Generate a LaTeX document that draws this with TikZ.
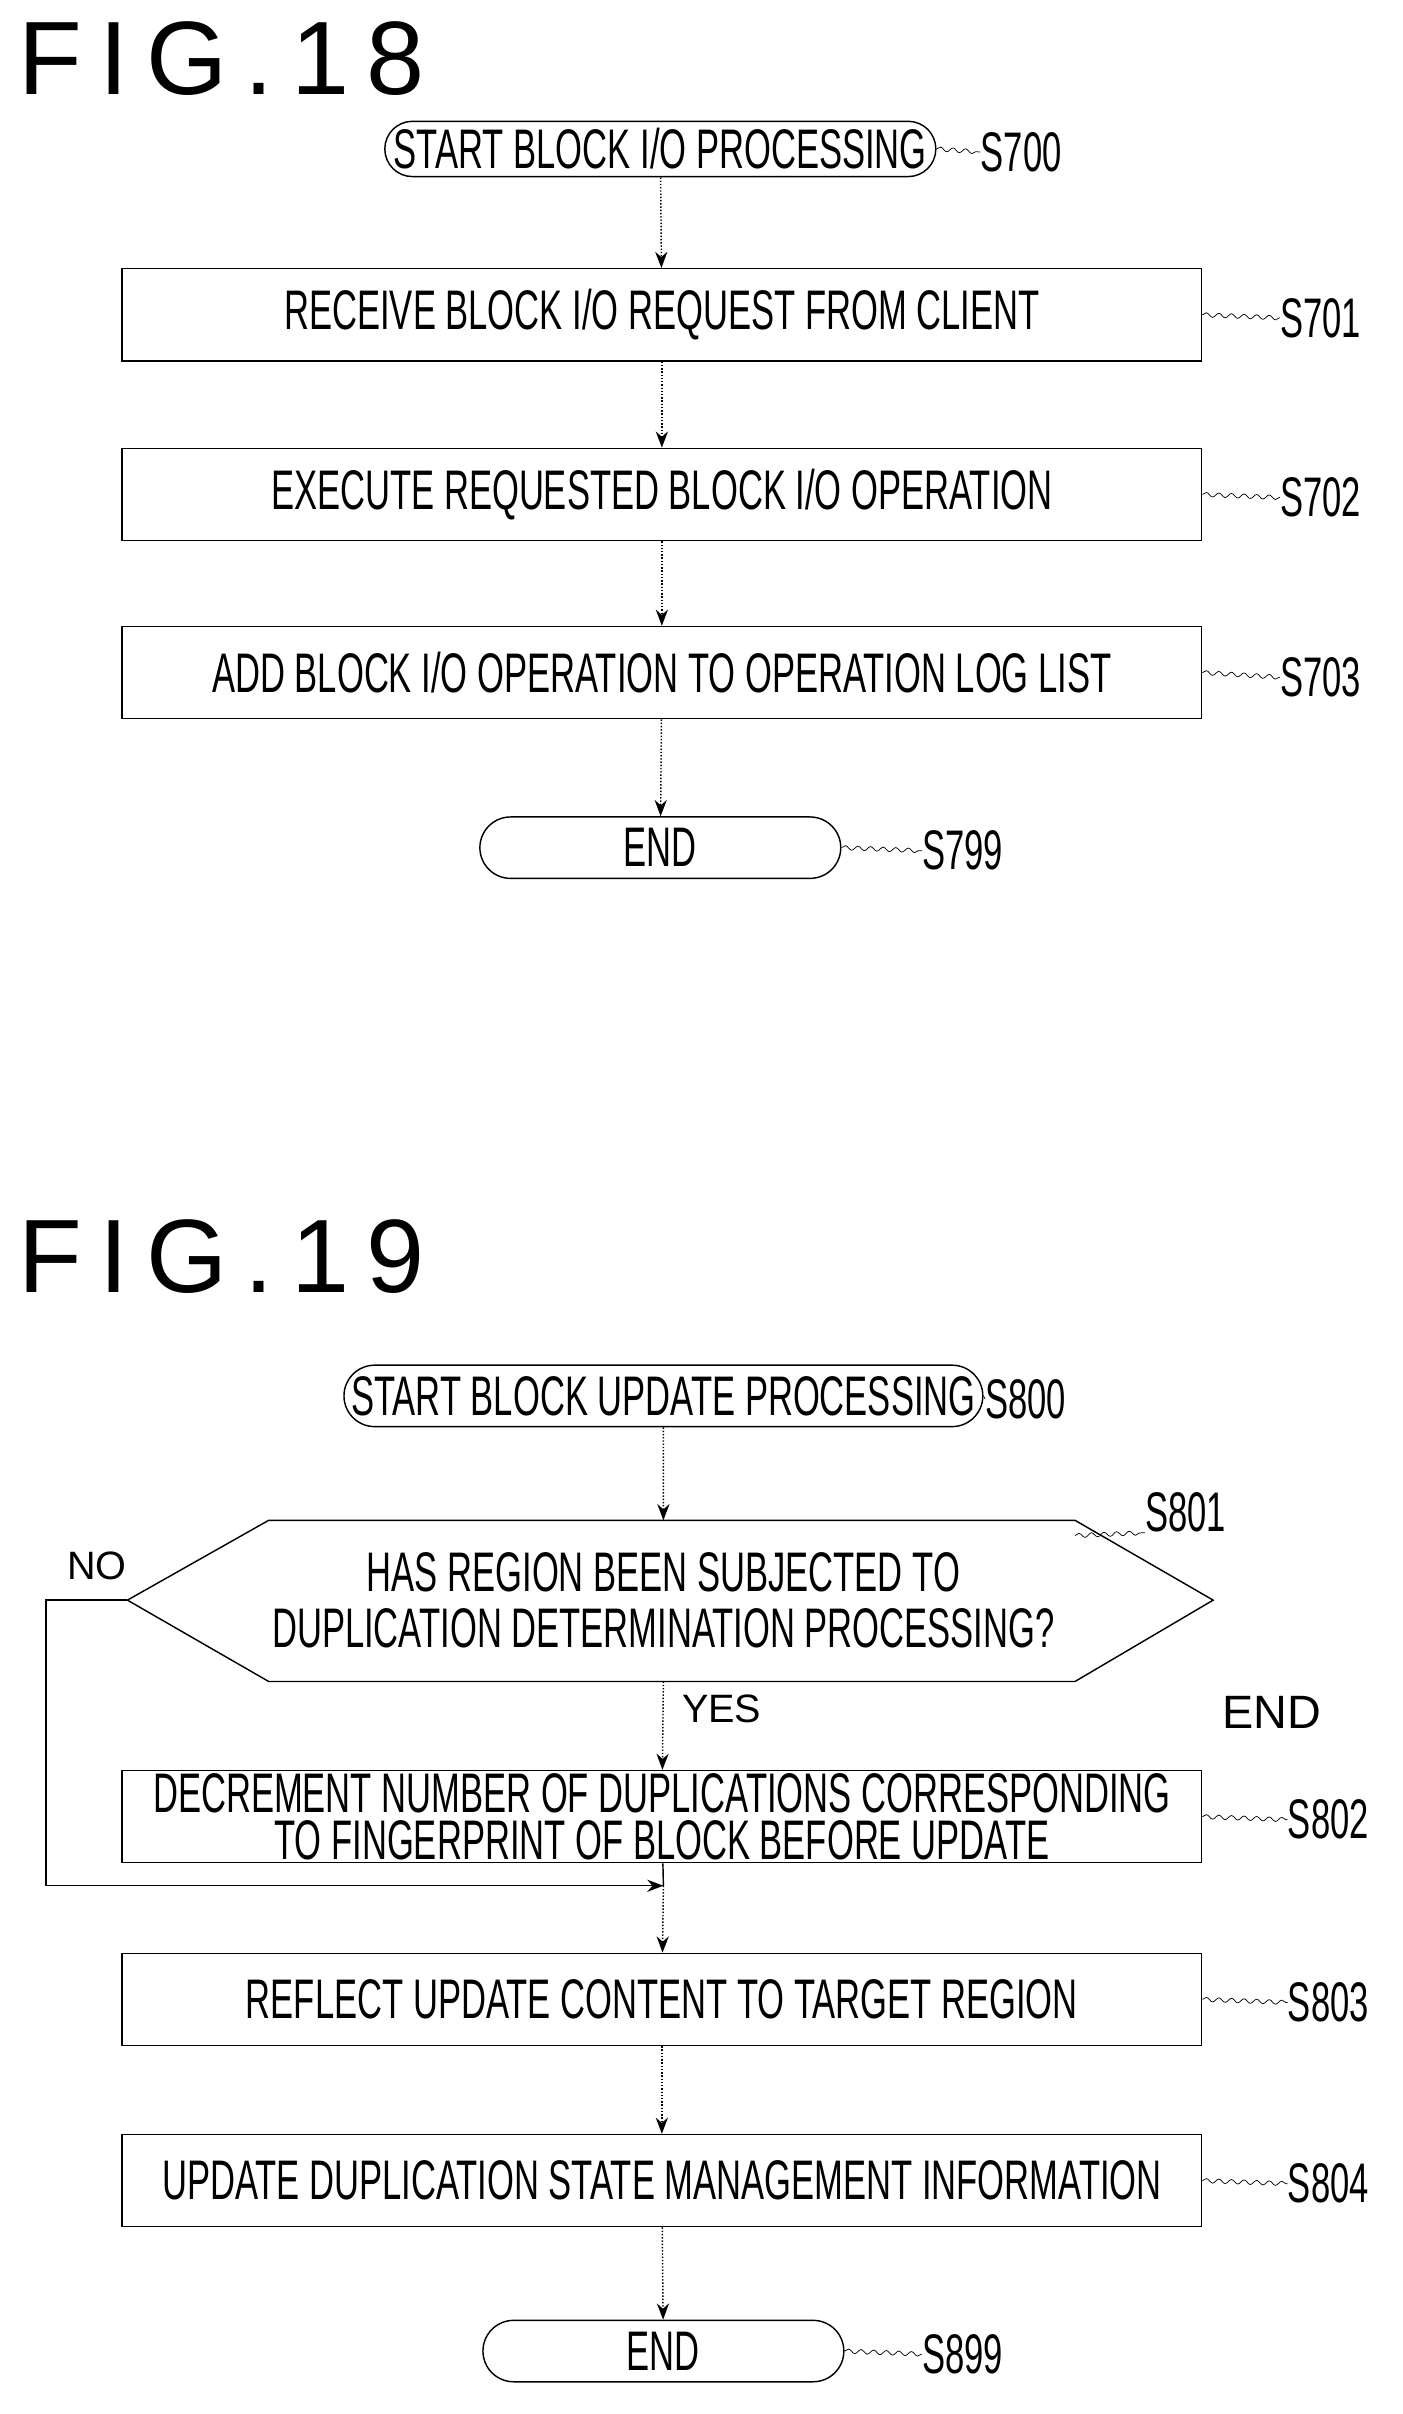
\documentclass[tikz,border=0pt]{standalone}
\usepackage{fontspec}
\setmainfont{Liberation Sans}
\usetikzlibrary{shapes.misc,decorations.pathmorphing,arrows.meta}
\newcommand{\nt}[1]{\scalebox{0.62}[1]{#1}}
\begin{document}
\begin{tikzpicture}[x=0.03cm,y=-0.03cm,
  txt/.style={font=\fontsize{31}{33}\selectfont, inner sep=0pt},
  procbox/.style={draw, thick, minimum width=21.09cm, minimum height=1.8cm, txt},
  term/.style={draw, thick, rounded rectangle, minimum height=1.2cm, txt},
  flow/.style={thick, densely dotted, -{Stealth[length=9pt]}},
  tag/.style={txt},
  wig/.style={thin, decorate, decoration={snake, amplitude=1.2pt, segment length=7pt}},
  fig/.style={font=\fontsize{58}{60}\selectfont, anchor=west}]
  \useasboundingbox (0,0) rectangle (913,1572);

  % FIG.18
  \node[fig] (f18) at (8,38) {F\,I\,G\,.\,1\,8};
  \node[term, minimum width=9.15cm, minimum height=1.08cm] (s700) at (430,97) {\nt{START BLOCK I/O PROCESSING}};
  \node[procbox] (s701) at (431,205) {\nt{RECEIVE BLOCK I/O REQUEST FROM CLIENT}};
  \node[procbox] (s702) at (431,322) {\nt{EXECUTE REQUESTED BLOCK I/O OPERATION}};
  \node[procbox] (s703) at (431,438) {\nt{ADD BLOCK I/O OPERATION TO OPERATION LOG LIST}};
  \node[term, minimum width=7.05cm] (e18) at (430,552) {\nt{END}};
  \node[tag] (t700) at (665,99) {\nt{S700}};
  \node[tag] (t701) at (860,207) {\nt{S701}};
  \node[tag] (t702) at (860,324) {\nt{S702}};
  \node[tag] (t703) at (860,441) {\nt{S703}};
  \node[tag] (t799) at (627,554) {\nt{S799}};
  \draw[wig] (s700.east) -- (t700.west);
  \draw[wig] (s701.east) -- (t701.west);
  \draw[wig] (s702.east) -- (t702.west);
  \draw[wig] (s703.east) -- (t703.west);
  \draw[wig] (e18.east) -- (t799.west);
  \draw[flow] (s700) -- (s701);
  \draw[flow] (s701) -- (s702);
  \draw[flow] (s702) -- (s703);
  \draw[flow] (s703) -- (e18);

  % FIG.19
  \node[fig] (f19) at (8,818) {F\,I\,G\,.\,1\,9};
  \node[term, minimum width=9.15cm] (s800) at (432,909) {\nt{START BLOCK UPDATE PROCESSING}};
  \coordinate (dl) at (83,1042);
  \coordinate (dr) at (790,1042);
  \coordinate (dt) at (432,990);
  \coordinate (db) at (432,1095);
  \draw[thick] (dl) -- (175,990) -- (700,990) -- (dr) -- (700,1095) -- (175,1095) -- cycle;
  \node[txt, align=center] (s801) at (432,1042) {\nt{HAS REGION BEEN SUBJECTED TO}\\[-2pt]\nt{DUPLICATION DETERMINATION PROCESSING?}};
  \node[procbox, align=center, font=\fontsize{31}{26}\selectfont] (s802) at (431,1183) {\nt{DECREMENT NUMBER OF DUPLICATIONS CORRESPONDING}\\\nt{TO FINGERPRINT OF BLOCK BEFORE UPDATE}};
  \node[procbox] (s803) at (431,1302) {\nt{REFLECT UPDATE CONTENT TO TARGET REGION}};
  \node[procbox] (s804) at (431,1420) {\nt{UPDATE DUPLICATION STATE MANAGEMENT INFORMATION}};
  \node[term, minimum width=7.05cm] (e19) at (432,1531) {\nt{END}};
  \node[tag] (t800) at (668,911) {\nt{S800}};
  \node[tag] (t801) at (772,985) {\nt{S801}};
  \node[tag] (t802) at (865,1185) {\nt{S802}};
  \node[tag] (t803) at (865,1304) {\nt{S803}};
  \node[tag] (t804) at (865,1422) {\nt{S804}};
  \node[tag] (t899) at (627,1533) {\nt{S899}};
  \draw[wig] (s800.east) -- (t800.west);
  \draw[wig] (700,1000) -- (t801.south west);
  \draw[wig] (s802.east) -- (t802.west);
  \draw[wig] (s803.east) -- (t803.west);
  \draw[wig] (s804.east) -- (t804.west);
  \draw[wig] (e19.east) -- (t899.west);
  \node[font=\fontsize{22}{24}\selectfont] (no) at (63,1020) {NO};
  \node[font=\fontsize{22}{24}\selectfont] (yes) at (470,1113) {YES};
  \node[font=\fontsize{26}{28}\selectfont] (stray) at (828,1115) {END};
  \coordinate (join) at (432,1228);
  \draw[flow] (s800) -- (dt);
  \draw[flow] (db) -- (s802);
  \draw[thick] (s802) -- (join);
  \draw[thick, -{Stealth[length=9pt]}] (dl) -- (30,1042) -- (30,1228) -- (join);
  \draw[flow] (join) -- (s803);
  \draw[flow] (s803) -- (s804);
  \draw[flow] (s804) -- (e19);
\end{tikzpicture}
\end{document}
